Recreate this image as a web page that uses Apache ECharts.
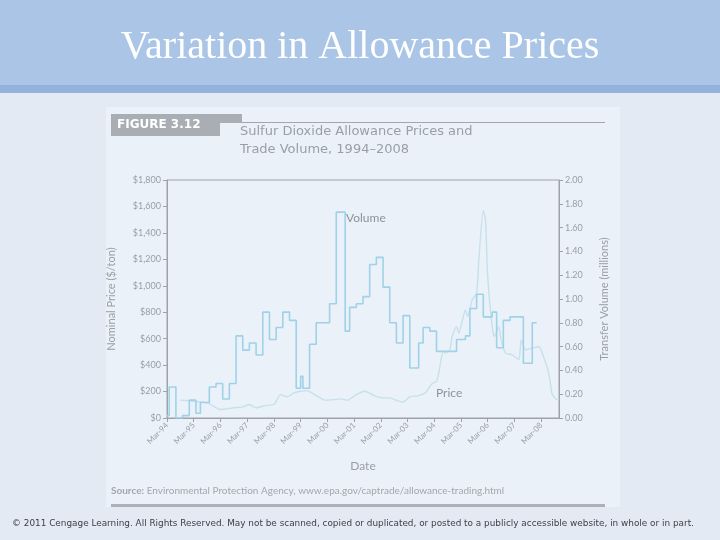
<!DOCTYPE html>
<html>
<head>
<meta charset="utf-8">
<script src="https://cdn.jsdelivr.net/npm/echarts@6/dist/echarts.min.js"></script>
<style>
  html, body { margin: 0; padding: 0; }
  #chart { width: 720px; height: 540px; }
</style>
</head>
<body>
<div id="chart"></div>
<script>
// x values are months counted from Mar-94
var xTickLabels = ['Mar-94', 'Mar-95', 'Mar-96', 'Mar-97', 'Mar-98', 'Mar-99', 'Mar-00', 'Mar-01',
                   'Mar-02', 'Mar-03', 'Mar-04', 'Mar-05', 'Mar-06', 'Mar-07', 'Mar-08'];

// transfer volume (millions), stepped line, right axis
var volMonths = [0, 1, 4, 7, 10, 13, 15, 19, 22, 25, 28, 31, 34, 37, 40, 43, 46, 49, 52, 55,
                 58, 60, 61, 64, 67, 73, 76, 80, 82, 85, 88, 91, 94, 97, 100, 103, 106, 109, 113, 115,
                 118, 121, 130, 134, 136, 139, 142, 146, 148, 151, 154, 160, 164, 166];
var volValues = [0.02, 0.26, 0.00, 0.02, 0.15, 0.04, 0.13, 0.26, 0.29, 0.16, 0.29, 0.69, 0.57, 0.63, 0.53, 0.89, 0.66, 0.76, 0.89, 0.82,
                 0.25, 0.35, 0.25, 0.62, 0.80, 0.96, 1.73, 0.73, 0.93, 0.96, 1.02, 1.29, 1.35, 1.10, 0.80, 0.63, 0.86, 0.42, 0.63, 0.76,
                 0.73, 0.56, 0.66, 0.69, 0.92, 1.04, 0.85, 0.89, 0.59, 0.82, 0.85, 0.46, 0.80, 0.80];

// nominal price ($/ton), left axis
var priceMonths = [6, 18, 24, 30, 34, 37, 40, 44, 48, 51, 54, 57, 60, 63, 65, 68, 71, 75, 78, 81,
                   85, 89, 93, 97, 100, 104, 106, 109, 113, 116, 119, 121, 122, 124, 125, 127, 128, 130, 131, 134,
                   135, 137, 139, 140, 142, 143, 144, 146, 147, 149, 150, 152, 155, 158, 159, 161, 164, 167, 169, 171,
                   172, 173, 175, 176];
var priceValues = [134, 114, 64, 77, 84, 102, 77, 94, 102, 177, 160, 190, 202, 207, 190, 160, 134, 139, 145, 134,
                   177, 202, 169, 152, 152, 127, 119, 160, 169, 190, 260, 277, 340, 503, 491, 516, 616, 691, 642, 817,
                   767, 892, 943, 1194, 1570, 1495, 1068, 691, 616, 691, 591, 491, 478, 441, 591, 516, 529, 541, 465, 365,
                   277, 177, 139, 145];

function pairs(xs, ys) {
    return xs.map(function (x, i) { return [x, ys[i]]; });
}

var grey = '#9ea3aa';
var txt = '#9a9fa6';

var myChart = echarts.init(document.getElementById('chart'));
var option = {
    backgroundColor: '#e3eaf3',
    animation: false,
    title: {
        text: 'Variation in Allowance Prices',
        left: 'center',
        top: 22,
        textStyle: { fontFamily: 'Liberation Serif', fontSize: 40, fontWeight: 'normal', color: '#ffffff' }
    },
    graphic: [
        // header band
        { type: 'rect', z: -10, shape: { x: 0, y: 0, width: 720, height: 86 }, style: { fill: '#abc5e6' } },
        { type: 'rect', z: -10, shape: { x: 0, y: 85, width: 720, height: 8 }, style: { fill: '#93b3dd' } },
        // figure panel
        { type: 'rect', z: -9, shape: { x: 106, y: 107, width: 514, height: 400 }, style: { fill: '#eaf1f8' } },
        { type: 'rect', shape: { x: 111, y: 114, width: 109, height: 22 }, style: { fill: '#a9adb4' } },
        { type: 'rect', shape: { x: 220, y: 114, width: 22, height: 9 }, style: { fill: '#a9adb4' } },
        { type: 'line', shape: { x1: 242, y1: 122.5, x2: 605, y2: 122.5 }, style: { stroke: '#a3a7ad', lineWidth: 1 } },
        { type: 'text', x: 117, y: 125, style: { text: 'FIGURE 3.12', fill: '#ffffff', font: 'bold 12px DejaVu Sans', verticalAlign: 'middle' } },
        { type: 'text', x: 240, y: 132, style: { text: 'Sulfur Dioxide Allowance Prices and', fill: txt, font: '13px DejaVu Sans', verticalAlign: 'middle' } },
        { type: 'text', x: 240, y: 150, style: { text: 'Trade Volume, 1994\u20132008', fill: txt, font: '13px DejaVu Sans', verticalAlign: 'middle' } },
        // series labels
        { type: 'text', x: 346, y: 218, style: { text: 'Volume', fill: '#8e939a', font: '12px Lato', verticalAlign: 'middle' } },
        { type: 'text', x: 436, y: 393, style: { text: 'Price', fill: '#8e939a', font: '12px Lato', verticalAlign: 'middle' } },
        // source and footer
        {
            type: 'text', x: 111, y: 491,
            style: {
                text: '{b|Source:} Environmental Protection Agency, www.epa.gov/captrade/allowance-trading.html',
                fill: '#a3a7ad', font: '10px Lato', verticalAlign: 'middle',
                rich: { b: { fontWeight: 'bold', fontSize: 10, fontFamily: 'Lato', fill: '#a3a7ad' } }
            }
        },
        { type: 'line', shape: { x1: 111, y1: 505.5, x2: 605, y2: 505.5 }, style: { stroke: '#aeb2b8', lineWidth: 3 } },
        {
            type: 'text', x: 353, y: 524,
            style: {
                text: '\u00a9 2011 Cengage Learning. All Rights Reserved. May not be scanned, copied or duplicated, or posted to a publicly accessible website, in whole or in part.',
                fill: '#3c3f44', font: '8.9px DejaVu Sans', align: 'center', verticalAlign: 'middle'
            }
        }
    ],
    grid: {
        left: 167, right: 161, top: 180, bottom: 122,
        show: true, borderColor: grey, borderWidth: 1, backgroundColor: 'transparent'
    },
    xAxis: {
        type: 'value',
        min: 0, max: 176, interval: 12,
        name: 'Date', nameLocation: 'middle', nameGap: 42,
        nameTextStyle: { color: txt, fontFamily: 'Lato', fontSize: 12 },
        axisLine: { lineStyle: { color: grey } },
        axisTick: { lineStyle: { color: grey }, length: 4 },
        splitLine: { show: false },
        axisLabel: {
            rotate: 45, color: txt, fontFamily: 'Lato', fontSize: 8, margin: 6,
            showMaxLabel: false,
            formatter: function (v) { return v % 12 === 0 ? xTickLabels[v / 12] : ''; }
        }
    },
    yAxis: [
        {
            type: 'value', position: 'left',
            min: 0, max: 1800, interval: 200,
            name: 'Nominal Price ($/ton)', nameLocation: 'middle', nameGap: 50,
            nameTextStyle: { color: txt, fontFamily: 'Lato', fontSize: 11 },
            axisLine: { show: true, lineStyle: { color: grey } },
            axisTick: { show: true, lineStyle: { color: grey }, length: 4 },
            splitLine: { show: false },
            axisLabel: {
                color: txt, fontFamily: 'Lato', fontSize: 9, margin: 6,
                formatter: function (v) { return '$' + v.toLocaleString('en-US'); }
            }
        },
        {
            type: 'value', position: 'right',
            min: 0, max: 2, interval: 0.2,
            name: 'Transfer Volume (millions)', nameLocation: 'middle', nameGap: 40,
            nameTextStyle: { color: txt, fontFamily: 'Lato', fontSize: 11 },
            axisLine: { show: true, lineStyle: { color: grey } },
            axisTick: { show: true, lineStyle: { color: grey }, length: 4 },
            splitLine: { show: false },
            axisLabel: {
                color: txt, fontFamily: 'Lato', fontSize: 9, margin: 6,
                formatter: function (v) { return v.toFixed(2); }
            }
        }
    ],
    series: [
        {
            name: 'Price',
            type: 'line',
            yAxisIndex: 0,
            showSymbol: false,
            smooth: 0.2,
            lineStyle: { color: '#c6e0ec', width: 1.4 },
            data: pairs(priceMonths, priceValues)
        },
        {
            name: 'Volume',
            type: 'line',
            yAxisIndex: 1,
            showSymbol: false,
            step: 'end',
            lineStyle: { color: '#9fd2e8', width: 1.6 },
            data: pairs(volMonths, volValues)
        }
    ]
};
myChart.setOption(option, true);
window.addEventListener('resize', myChart.resize);
</script>
</body>
</html>
